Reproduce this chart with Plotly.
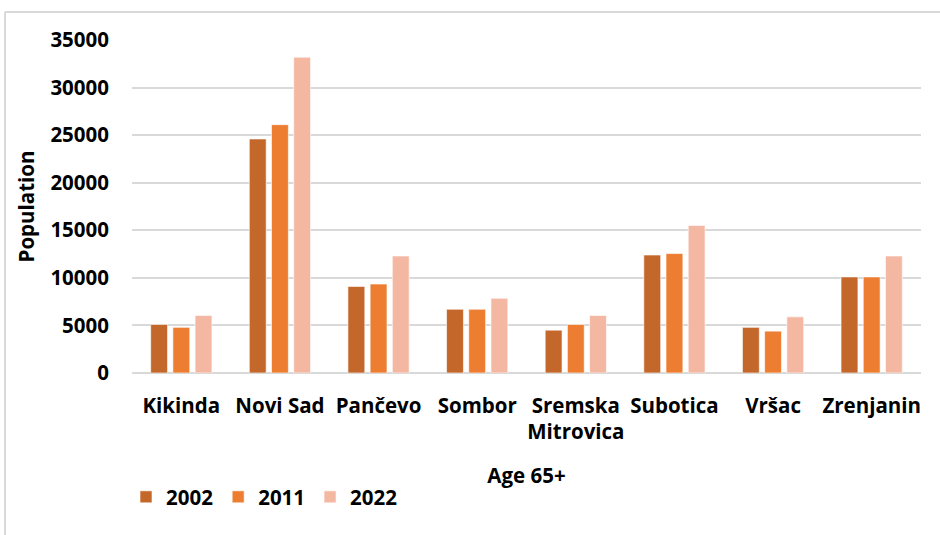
import plotly.graph_objects as go

# Population aged 65+ by city and census year
cities = ["Kikinda", "Novi Sad", "Pančevo", "Sombor", "Sremska<br>Mitrovica",
          "Subotica", "Vršac", "Zrenjanin"]
years = ["2002", "2011", "2022"]
pop_2002 = [5100, 24600, 9100, 6700, 4500, 12400, 4800, 10100]
pop_2011 = [4800, 26100, 9350, 6700, 5100, 12550, 4400, 10100]
pop_2022 = [6050, 33200, 12300, 7850, 6050, 15500, 5900, 12300]
y_ticks = [0, 5000, 10000, 15000, 20000, 25000, 30000, 35000]

colors = ["#C4672B", "#ED7D31", "#F4B8A2"]
series = [pop_2002, pop_2011, pop_2022]

W, H = 940, 535
L, R, T, B = 132, 19, 40, 162
FONT = "Open Sans"
FS = 20.5

fig = go.Figure()
for name, vals, col in zip(years, series, colors):
    fig.add_trace(go.Bar(
        name=name, x=cities, y=vals,
        marker=dict(color=col, line=dict(color="rgba(255,255,255,0.6)", width=1)),
    ))

# outer chart frame (top and left edges)
px_to_x = lambda p: (p - L) / (W - L - R)
px_to_y = lambda p: (H - B - p) / (H - T - B)
frame = dict(color="#D9D9D9", width=2)
fig.add_shape(type="line", xref="paper", yref="paper",
              x0=px_to_x(5), x1=px_to_x(945), y0=px_to_y(12), y1=px_to_y(12), line=frame)
fig.add_shape(type="line", xref="paper", yref="paper",
              x0=px_to_x(5), x1=px_to_x(5), y0=px_to_y(12), y1=px_to_y(540), line=frame)

fig.update_layout(
    width=W, height=H,
    margin=dict(l=L, r=R, t=T, b=B, autoexpand=False),
    paper_bgcolor="white", plot_bgcolor="white",
    barmode="group", bargap=0.325, bargroupgap=0.24,
    font=dict(family=FONT, size=FS, color="#000000", weight="bold"),
    showlegend=True,
    legend=dict(orientation="h", x=px_to_x(126), xanchor="left",
                y=px_to_y(497), yanchor="middle",
                font=dict(family=FONT, size=FS, weight="bold"),
                itemwidth=30, traceorder="normal"),
    xaxis=dict(
        type="category", showgrid=False, showline=False, zeroline=False,
        ticks="", ticklabelstandoff=18,
        tickfont=dict(family=FONT, size=FS, weight="bold"),
        title=dict(text="Age 65+", standoff=24,
                   font=dict(family=FONT, size=FS, weight="bold")),
    ),
    yaxis=dict(
        range=[0, 35000], tickvals=y_ticks, ticktext=[str(v) for v in y_ticks],
        showgrid=True, gridcolor="#D9D9D9", gridwidth=2,
        zeroline=True, zerolinecolor="#D9D9D9", zerolinewidth=2,
        showline=False, ticks="", ticklabelstandoff=22,
        tickfont=dict(family=FONT, size=FS, weight="bold"),
        title=dict(text="Population", standoff=10,
                   font=dict(family=FONT, size=FS, weight="bold")),
    ),
)

fig.write_html("out.html")
